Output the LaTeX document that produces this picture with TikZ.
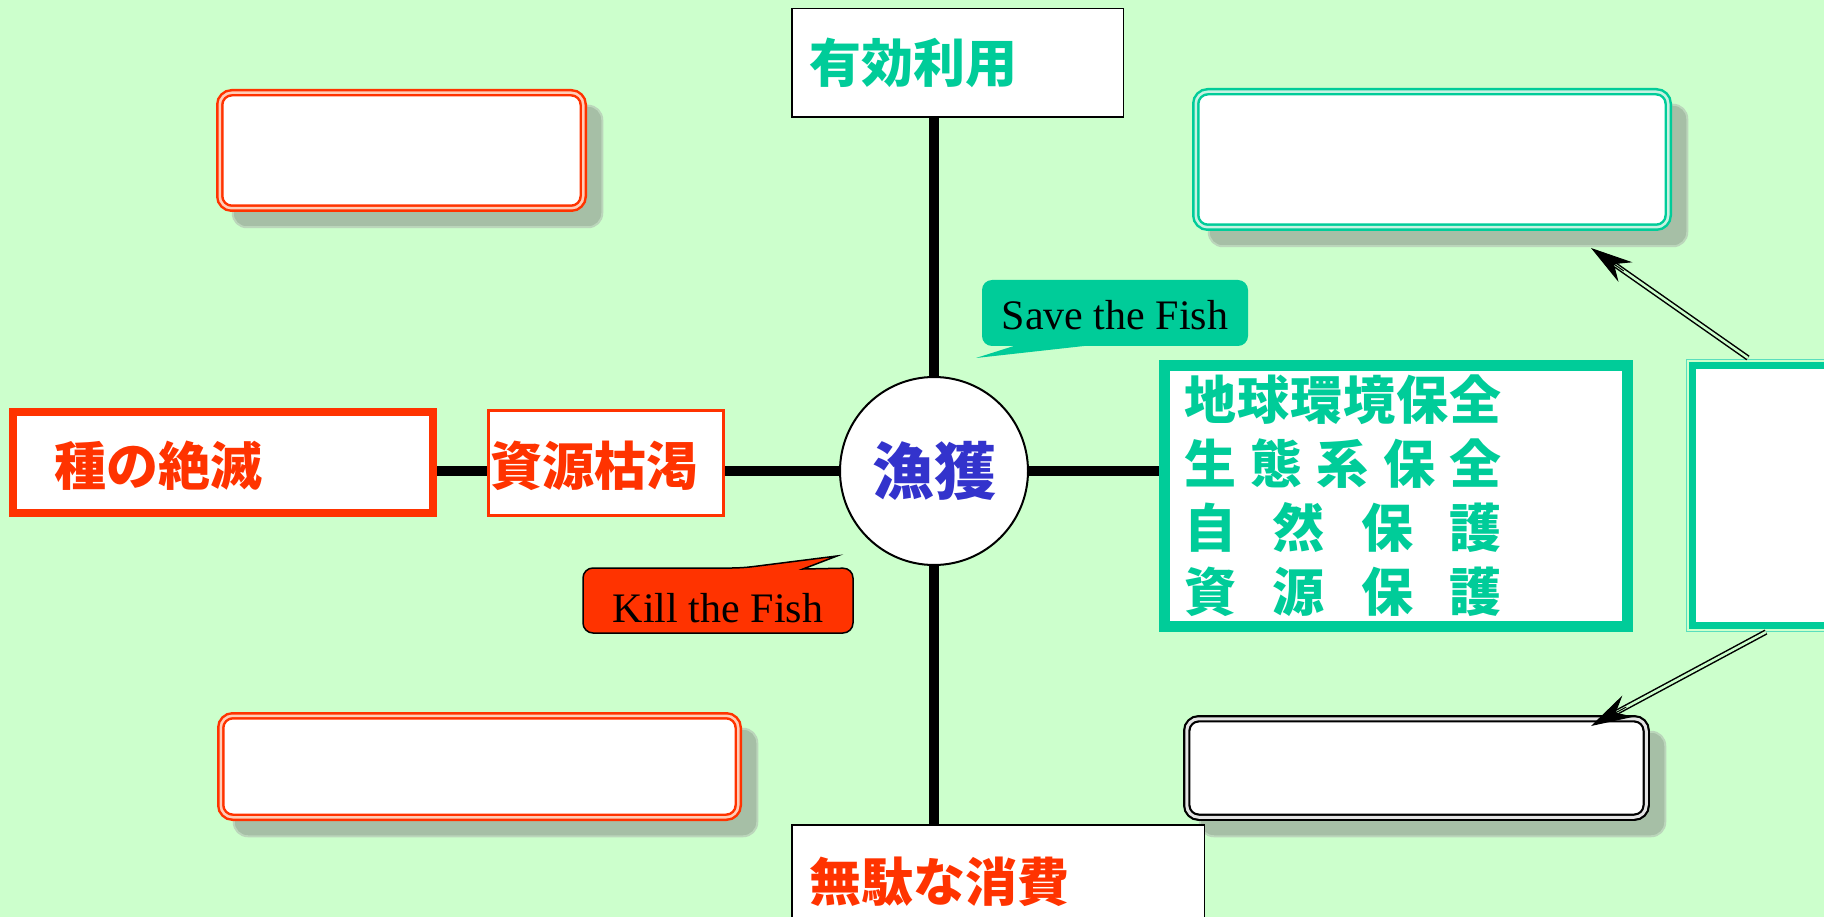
\documentclass[tikz,border=0pt]{standalone}
\usepackage{fontspec}
\setmainfont{Liberation Serif}
\newfontfamily\jp{Noto Sans CJK JP}
\usetikzlibrary{arrows.meta,calc}
\definecolor{bgc}{HTML}{CCFFCC}
\definecolor{gr}{HTML}{00CC99}
\definecolor{rd}{HTML}{FF3300}
\definecolor{bl}{HTML}{3333CC}
\definecolor{shc}{HTML}{A6BFA6}
\definecolor{she}{HTML}{BBD6BB}
\definecolor{rdgap}{HTML}{FFCDB8}
\definecolor{grgap}{HTML}{C8F2E2}
\definecolor{bkgap}{HTML}{E4E4E4}
\pgfdeclarelayer{bg}
\pgfsetlayers{bg,main}
\begin{document}
\begin{tikzpicture}[x=1pt,y=-1pt,
  jpf/.style={font=\jp\bfseries\fontsize{52}{64}\selectfont},
  labelbox/.style={jpf, draw=black, line width=1.5, fill=white, outer sep=0, inner xsep=18, inner ysep=0, align=left},
  thickbox/.style={jpf, fill=white, outer sep=0, inner ysep=0, align=left},
  dblbox/.style={fill=white, double distance=2.5, line width=2.5, rounded corners=12, outer sep=0, inner sep=0},
  shadowsty/.style={fill=shc, draw=she, line width=2, rounded corners=14},
  conn/.style={draw=black, line width=10},
  calltext/.style={font=\fontsize{42}{42}\selectfont, inner sep=0, outer sep=0, text depth=0pt},
  dblarrow/.style={draw=black, double=bgc, double distance=2.5, line width=1.5, shorten >=30pt},
  tipsty/.style={draw=black, line width=1, -{Stealth[length=42pt,width=24pt,inset=14pt]}}
]
\useasboundingbox (0,0) rectangle (1824,917);
\clip (0,0) rectangle (1824,917);

% label boxes
\node[labelbox, text width=295.5, minimum height=108.5, text=gr] (top) at (957.5,63) {有効利用};
\node[labelbox, text width=376.5, minimum height=114.5, text=rd] (bot) at (998,882) {無駄な消費};
\node[circle, draw=black, line width=2, fill=white, minimum size=188, inner sep=0, outer sep=0,
      text=bl, font=\jp\bfseries\fontsize{62}{62}\selectfont] (circ) at (934,471) {漁獲};
\node[thickbox, draw=rd, line width=8, text=rd, minimum height=101, text width=338, inner xsep=41, text height=50pt] (sp) at (223,462.5) {種の絶滅};
\node[thickbox, draw=rd, line width=3, text=rd, minimum height=105, text width=232, inner xsep=1.5, text height=50pt] (src) at (606,463) {資源枯渇};
\node[thickbox, draw=gr, line width=11, text=gr, minimum height=261, text width=424, inner xsep=19.5] (gb) at (1396,496)
  {\makebox[318pt][s]{地\hfill 球\hfill 環\hfill 境\hfill 保\hfill 全}\\
   \makebox[318pt][s]{生\hfill 態\hfill 系\hfill 保\hfill 全}\\
   \makebox[318pt][s]{自\hfill 然\hfill 保\hfill 護}\\
   \makebox[318pt][s]{資\hfill 源\hfill 保\hfill 護}};
\node[draw=gr, line width=7, fill=white, outer sep=0, minimum width=207.5, minimum height=260] (rb) at (1796.25,495.5) {};
\draw[gr!65!white, line width=1] ([shift={(-6,-6)}]rb.north west) rectangle ([shift={(6,6)}]rb.south east);

% rounded boxes
\node[dblbox, draw=rd, double=rdgap, minimum width=363.5, minimum height=115.5] (tl) at (401.5,150.5) {};
\node[dblbox, draw=gr, double=grgap, minimum width=472.5, minimum height=135.5] (tr) at (1432,159.5) {};
\node[dblbox, draw=rd, double=rdgap, minimum width=517.5, minimum height=101.5] (bll) at (479.5,766.5) {};
\node[dblbox, draw=black, double=bkgap, line width=2.2, double distance=3, minimum width=459.5, minimum height=98.5] (br) at (1416.5,768) {};

% callouts
\node[calltext, minimum width=266, minimum height=66, text height=34pt] (save) at (1115,313) {Save the Fish};
\node[calltext, minimum width=270, minimum height=65, text height=43pt] (kill) at (718,600.5) {Kill the Fish};
\coordinate (savetip) at ([shift={(-6,12)}]save.south west);
\coordinate (killtip) at ([shift={(-16,-12)}]kill.north east);

\begin{pgfonlayer}{bg}
  \fill[bgc] (0,0) rectangle (1824,917);
  \foreach \n in {tl,tr,bll,br}
    \draw[shadowsty] ([shift={(13,13)}]\n.north west) rectangle ([shift={(19,19)}]\n.south east);
  \draw[conn] (circ.north) -- (circ.north |- top.south);
  \draw[conn] (circ.south) -- (circ.south |- bot.north);
  \draw[conn] (circ.west) -- (circ.west -| src.east);
  \draw[conn] (circ.west -| src.west) -- (circ.west -| sp.east);
  \draw[conn] (circ.east) -- (circ.east -| gb.west);
  \fill[gr, rounded corners=10] (save.north west) rectangle (save.south east);
  \fill[gr] ([shift={(35,-1)}]save.south west) -- (savetip) -- ([shift={(111,-1)}]save.south west) -- cycle;
  \draw[fill=rd, draw=black, line width=1.5, rounded corners=10]
    (kill.south west) -- (kill.north west) -- ([shift={(159,0)}]kill.north west)
    [sharp corners] -- (killtip) -- ([shift={(220,1)}]kill.north west)
    [rounded corners=10] -- (kill.north east) -- (kill.south east) -- cycle;
\end{pgfonlayer}

% arrows
\coordinate (a1s) at ([shift={(55.5,-7.5)}]rb.north west);
\coordinate (a1e) at ([shift={(-77.25,20.75)}]tr.south east);
\coordinate (a2s) at ([shift={(73.5,6.5)}]rb.south west);
\coordinate (a2e) at ([shift={(-55.25,7.25)}]br.north east);
\draw[dblarrow] (a1s) -- (a1e);
\draw[tipsty] ($(a1e)!40pt!(a1s)$) -- (a1e);
\draw[dblarrow] (a2s) -- (a2e);
\draw[tipsty] ($(a2e)!40pt!(a2s)$) -- (a2e);
\end{tikzpicture}
\end{document}
